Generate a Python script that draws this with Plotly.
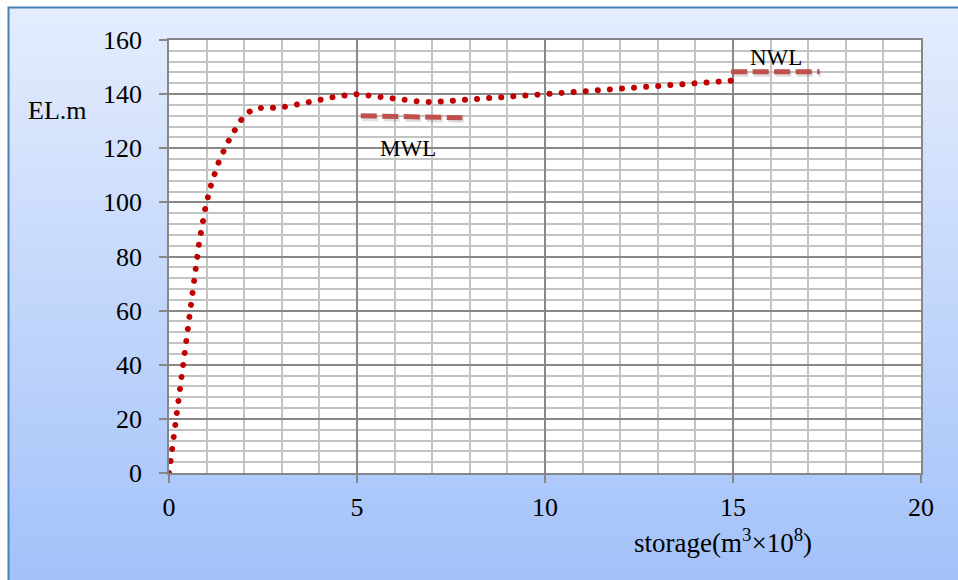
import zlib, struct, base64
import plotly.graph_objects as go

# ---------------- data ----------------
storage = [0.0, 0.3, 0.62, 0.8, 0.98, 1.14, 1.35, 1.63, 1.99, 2.24, 2.55, 2.87,
           3.2, 3.84, 4.48, 5.0, 5.46, 6.1, 6.75, 7.08, 7.73, 8.7, 10.0, 11.0,
           12.0, 13.0, 14.0, 15.0]
elevation = [0, 32, 67, 85, 99, 107.5, 116, 124, 132, 134.5, 135.1, 134.9,
             135.6, 137.6, 139.2, 140, 139.3, 137.8, 137.1, 137.1, 137.7, 138.7,
             139.9, 141, 142, 143, 144, 145]
mwl_x = [5.1, 7.8]
mwl_y = [132.0, 131.3]
nwl_x = [14.95, 17.3]
nwl_y = [148.3, 148.3]
x_ticks = [0, 5, 10, 15, 20]
y_ticks = [0, 20, 40, 60, 80, 100, 120, 140, 160]

# ---------------- layout geometry ----------------
W, H = 958, 580
L, R, T, B = 169, 37, 40, 107
pw, ph = W - L - R, H - T - B

def px2x(px):
    return (px - L) / pw

def py2y(py):
    return (H - B - py) / ph

def png_gradient(c0, c1, n=256):
    raw = b''
    for i in range(n):
        t = i / (n - 1)
        rgb = bytes(round(a + (b_ - a) * t) for a, b_ in zip(c0, c1))
        raw += b'\x00' + rgb + rgb
    def chunk(tag, data):
        c = struct.pack('>I', len(data)) + tag + data
        return c + struct.pack('>I', zlib.crc32(tag + data) & 0xffffffff)
    png = (b'\x89PNG\r\n\x1a\n'
           + chunk(b'IHDR', struct.pack('>IIBBBBB', 2, n, 8, 2, 0, 0, 0))
           + chunk(b'IDAT', zlib.compress(raw))
           + chunk(b'IEND', b''))
    return 'data:image/png;base64,' + base64.b64encode(png).decode()

grad = png_gradient((0xE4, 0xED, 0xFD), (0xA2, 0xC1, 0xF9))

FONT = "Liberation Serif"
curve_color = "#C00000"
level_color = "#C0504D"

fig = go.Figure()

# main curve (dotted)
fig.add_trace(go.Scatter(x=storage, y=elevation, mode="lines",
                         line=dict(color=curve_color, width=6, dash="dot"),
                         hoverinfo="skip", showlegend=False))

# shadows for level lines
for xs, ys in ((mwl_x, mwl_y), (nwl_x, nwl_y)):
    fig.add_trace(go.Scatter(x=[v + 0.04 for v in xs], y=[v - 0.8 for v in ys],
                             mode="lines",
                             line=dict(color="rgba(0,0,0,0.13)", width=6, dash="16px,5.5px"),
                             hoverinfo="skip", showlegend=False))
# level lines
for xs, ys in ((mwl_x, mwl_y), (nwl_x, nwl_y)):
    fig.add_trace(go.Scatter(x=xs, y=ys, mode="lines",
                             line=dict(color=level_color, width=5, dash="16px,5.5px"),
                             hoverinfo="skip", showlegend=False))

axis_common = dict(
    showgrid=True, gridcolor="#888888", gridwidth=1.5,
    ticks="outside", ticklen=8, tickcolor="#868686", tickwidth=1.5,
    showline=True, linecolor="#868686", linewidth=1.8, mirror=True,
    zeroline=False, tickfont=dict(family=FONT, size=26, color="#000000"),
)

fig.update_layout(
    width=W, height=H,
    margin=dict(l=L, r=R, t=T, b=B),
    paper_bgcolor="white", plot_bgcolor="white",
    xaxis=dict(range=[0, 20], tickmode="array", tickvals=x_ticks,
               minor=dict(dtick=1, showgrid=True, gridcolor="#C3C3C3", gridwidth=2, ticks=""),
               ticklabelstandoff=2, **axis_common),
    yaxis=dict(range=[0, 160], tickmode="array", tickvals=y_ticks,
               minor=dict(dtick=4, showgrid=True, gridcolor="#C3C3C3", gridwidth=2, ticks=""),
               ticklabelstandoff=12, **axis_common),
    images=[dict(source=grad, xref="paper", yref="paper",
                 x=px2x(8), y=py2y(7), sizex=(W + 10 - 8) / pw, sizey=(H + 10 - 7) / ph,
                 xanchor="left", yanchor="top", sizing="stretch", layer="below")],
    shapes=[
        dict(type="rect", xref="paper", yref="paper", x0=0, x1=1, y0=0, y1=1,
             fillcolor="white", line=dict(width=0), layer="below"),
        dict(type="rect", xref="paper", yref="paper",
             x0=px2x(8.5), x1=px2x(W + 20), y0=py2y(7.5), y1=py2y(H + 20),
             fillcolor="rgba(0,0,0,0)", line=dict(color="#4A7EBB", width=2), layer="below"),
    ],
    annotations=[
        dict(text="EL.m", xref="paper", yref="paper", x=px2x(57), y=py2y(110),
             showarrow=False, xanchor="center", yanchor="middle",
             font=dict(family=FONT, size=26, color="black")),
        dict(text="MWL", xref="x", yref="y", x=6.36, y=119.8,
             showarrow=False, xanchor="center", yanchor="middle",
             font=dict(family=FONT, size=23, color="black")),
        dict(text="NWL", xref="x", yref="y", x=16.15, y=153.7,
             showarrow=False, xanchor="center", yanchor="middle",
             font=dict(family=FONT, size=23, color="black")),
        dict(text="storage(m<sup>3</sup>×10<sup>8</sup>)", xref="paper", yref="paper",
             x=px2x(723), y=py2y(541), showarrow=False, xanchor="center", yanchor="middle",
             font=dict(family=FONT, size=27, color="black")),
    ],
)

post = """
var tr = document.querySelectorAll('.scatterlayer .trace');
if (tr.length) {
  var p = tr[0].querySelector('.js-line');
  if (p) { p.style.strokeLinecap = 'round'; p.style.strokeDasharray = '0.01px,12.1px'; }
}
"""
fig.write_html("out.html", post_script=post)
